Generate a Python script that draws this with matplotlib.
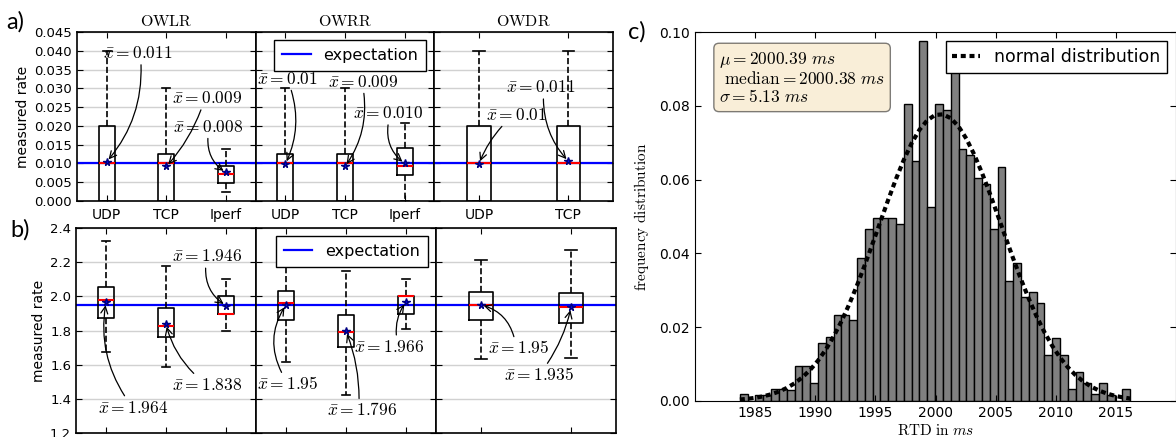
import numpy as np
import matplotlib
matplotlib.use('Agg')
import matplotlib.pyplot as plt
from matplotlib.ticker import FormatStrFormatter, MultipleLocator

plt.rcParams['mathtext.fontset'] = 'cm'
plt.rcParams['font.family'] = ['DejaVu Sans']

# ---------------- data ----------------
groups = ['OWLR', 'OWRR', 'OWDR']
protocols = [['UDP', 'TCP', 'Iperf'], ['UDP', 'TCP', 'Iperf'], ['UDP', 'TCP']]

# a) measured loss rate (box statistics per protocol)
a_whislo = [[0.0, 0.0, 0.0023], [0.0, 0.0, 0.0], [0.0, 0.0]]
a_q1 = [[0.0, 0.0, 0.0047], [0.0, 0.0, 0.0069], [0.0, 0.0]]
a_med = [[0.010, 0.010, 0.0071], [0.010, 0.010, 0.0094], [0.010, 0.010]]
a_q3 = [[0.020, 0.0125, 0.0094], [0.0125, 0.0125, 0.0140], [0.020, 0.020]]
a_whishi = [[0.040, 0.030, 0.0139], [0.030, 0.030, 0.0209], [0.040, 0.040]]
a_mean = [[0.0105, 0.0092, 0.0076], [0.0099, 0.0092, 0.0100], [0.0099, 0.0106]]
a_mean_txt = [['0.011', '0.009', '0.008'], ['0.01', '0.009', '0.010'], ['0.01', '0.011']]
a_expect = 0.010

# b) measured rate
b_whislo = [[1.676, 1.588, 1.80], [1.617, 1.425, 1.807], [1.631, 1.641]]
b_q1 = [[1.872, 1.760, 1.897], [1.862, 1.701, 1.897], [1.862, 1.846]]
b_med = [[1.979, 1.826, 1.897], [1.963, 1.789, 2.000], [1.950, 1.940]]
b_q3 = [[2.054, 1.930, 2.000], [2.032, 1.891, 2.000], [2.028, 2.022]]
b_whishi = [[2.322, 2.179, 2.10], [2.25, 2.149, 2.10], [2.21, 2.273]]
b_mean = [[1.964, 1.838, 1.946], [1.950, 1.796, 1.966], [1.950, 1.935]]
b_mean_txt = [['1.964', '1.838', '1.946'], ['1.95', '1.796', '1.966'], ['1.95', '1.935']]
b_expect = 1.95

# c) RTD histogram (density per bin)
rtd_lo, rtd_hi = 1983.73, 2016.20
rtd_density = [0.0018, 0.0, 0.0016, 0.0017, 0.0033, 0.0033, 0.0031, 0.0095, 0.0095, 0.0050,
               0.0156, 0.0173, 0.0234, 0.0234, 0.0220, 0.0388, 0.0465, 0.0496, 0.0496, 0.0496,
               0.0481, 0.0805, 0.0650, 0.0976, 0.0527, 0.0805, 0.0789, 0.0899, 0.0683, 0.0667,
               0.0603, 0.0588, 0.0465, 0.0635, 0.0326, 0.0373, 0.0281, 0.0295, 0.0265, 0.0125,
               0.0172, 0.0126, 0.0033, 0.0079, 0.0049, 0.0018, 0.0048, 0.0017, 0.0, 0.0033]
rtd_mu = 2000.39
rtd_median = 2000.38
rtd_sigma = 5.13

# annotation layout: text x, text y (data), arrow start on text box (relx, rely), arc
a_notes = [[(0.93, 0.0394, 0.55, 0, -0.2), (2.09, 0.0274, 0.43, 0, -0.1), (2.11, 0.0198, 0.5, 0, 0.3)],
           [(0.53, 0.0326, 0.54, 0, -0.2), (1.72, 0.0318, 0.5, 0, -0.2), (2.14, 0.0234, 0.5, 0, 0.3)],
           [(1.08, 0.0230, 0.3, 0, 0.1), (1.30, 0.0303, 0.54, 0, 0.2)]]
b_notes = [[(0.87, 1.349, 0.4, 1, -0.2), (2.10, 1.480, 0.35, 1, -0.15), (2.10, 2.234, 0.48, 0, 0.3)],
           [(0.52, 1.486, 0.42, 1, -0.3), (1.69, 1.333, 0.45, 1, 0.1), (2.14, 1.705, 0.6, 1, -0.2)],
           [(1.08, 1.695, 0.43, 1, 0.3), (1.25, 1.539, 0.6, 1, 0.1)]]

W, H = 1176, 437
fig = plt.figure(figsize=(W / 100, H / 100), dpi=100)


def px_axes(x0, y0, x1, y1, **kw):
    return fig.add_axes([x0 / W, 1 - y1 / H, (x1 - x0) / W, (y1 - y0) / H], **kw)


def draw_row(left, right, top, bottom, whislo, q1, med, q3, whishi, mean, mean_txt,
             expect, notes, ylim, ystep, yfmt, with_titles):
    axes = []
    w = (right - left) / 3
    for k in range(3):
        ax = px_axes(left + k * w, top, left + (k + 1) * w, bottom,
                     sharey=axes[0] if axes else None)
        n = len(med[k])
        stats = [dict(whislo=whislo[k][j], q1=q1[k][j], med=med[k][j], q3=q3[k][j],
                      whishi=whishi[k][j], mean=mean[k][j], fliers=[], label=protocols[k][j])
                 for j in range(n)]
        ax.axhline(expect, color='b', lw=1.6, zorder=1.5, label='expectation')
        ax.bxp(stats, positions=range(1, n + 1), widths=0.27 if n == 3 else 0.26,
               showmeans=True, showfliers=False,
               boxprops=dict(color='k', lw=1.2),
               whiskerprops=dict(color='k', ls='--', lw=1.2),
               capprops=dict(color='k', lw=1.2),
               medianprops=dict(color='r', lw=1.5),
               meanprops=dict(marker='*', markerfacecolor='b', markeredgecolor='navy',
                              markersize=5.5))
        ax.set_xlim(0.5, n + 0.5)
        ax.set_ylim(*ylim)
        ax.yaxis.set_major_locator(MultipleLocator(ystep))
        ax.yaxis.set_major_formatter(FormatStrFormatter(yfmt))
        ax.yaxis.grid(True, color='0.82', lw=1, ls='-')
        ax.set_axisbelow(True)
        ax.tick_params(direction='in', top=True, right=True, length=4, labelsize=9.5)
        ax.tick_params(axis='x', labelsize=10, pad=5)
        if not with_titles:
            ax.tick_params(labelbottom=False)
        else:
            ax.set_title(r'$\mathrm{%s}$' % groups[k], fontsize=11.5, pad=4)
        if k > 0:
            ax.tick_params(labelleft=False)
        for s in ax.spines.values():
            s.set_linewidth(1.2)
        for j in range(n):
            tx, ty, rx, ry, rad = notes[k][j]
            ax.annotate(r'$\bar{x}=%s$' % mean_txt[k][j], xy=(j + 1, mean[k][j]),
                        xytext=(tx, ty), ha='left', va='center', fontsize=12.5,
                        arrowprops=dict(arrowstyle='->', color='k', lw=0.9,
                                        connectionstyle='arc3,rad=%s' % rad,
                                        relpos=(rx, ry), shrinkA=0, shrinkB=2))
        axes.append(ax)
    axes[0].set_ylabel('measured rate', fontsize=10, labelpad=3)
    axes[1].legend(loc='upper right', fontsize=11.5, fancybox=False, framealpha=1,
                   edgecolor='k', handlelength=1.8, borderpad=0.5)
    return axes


draw_row(77, 613, 32, 201, a_whislo, a_q1, a_med, a_q3, a_whishi, a_mean, a_mean_txt,
         a_expect, a_notes, (0, 0.045), 0.005, '%.3f', True)
draw_row(76, 616, 228, 433, b_whislo, b_q1, b_med, b_q3, b_whishi, b_mean, b_mean_txt,
         b_expect, b_notes, (1.2, 2.4), 0.2, '%.1f', False)

# c) histogram
axc = px_axes(695, 32, 1176, 401)
edges = np.linspace(rtd_lo, rtd_hi, len(rtd_density) + 1)
axc.hist(edges[:-1], bins=edges, weights=rtd_density, color='0.5', edgecolor='k', lw=1)
pdf = np.exp(-(edges - rtd_mu) ** 2 / (2 * rtd_sigma ** 2)) / (rtd_sigma * np.sqrt(2 * np.pi))
axc.plot(edges, pdf, 'k--', lw=3, dashes=(1.2, 0.9), label='normal distribution')
axc.set_xlim(1980, 2020)
axc.set_ylim(0, 0.10)
axc.set_xticks([1985, 1990, 1995, 2000, 2005, 2010, 2015])
axc.set_yticks([0.0, 0.02, 0.04, 0.06, 0.08, 0.10])
axc.yaxis.set_major_formatter(FormatStrFormatter('%.2f'))
axc.tick_params(direction='in', top=True, right=True, length=4, labelsize=10)
axc.set_xlabel(r'$\mathrm{RTD\ in\ }ms$', fontsize=11, labelpad=2)
axc.set_ylabel(r'$\mathrm{frequency\ distribution}$', fontsize=11, labelpad=6)
axc.legend(loc='upper right', fontsize=12.5, fancybox=False, framealpha=1, edgecolor='k',
           handlelength=1.6)
stats_txt = '\n'.join([r'$\mu=%.2f\ ms$' % rtd_mu,
                       r'$\ \mathrm{median}=%.2f\ ms$' % rtd_median,
                       r'$\sigma=%.2f\ ms$' % rtd_sigma])
axc.text(0.05, 0.95, stats_txt, transform=axc.transAxes, va='top', ha='left', fontsize=12.5,
         linespacing=1.0, bbox=dict(boxstyle='round', facecolor='wheat', alpha=0.5))

for lab, x, y in [('a)', 15, 22), ('b)', 20, 230), ('c)', 637, 32)]:
    fig.text(x / W, 1 - y / H, lab, fontsize=17, family='Lato', ha='center', va='center')

fig.savefig('out.png', dpi=100)
